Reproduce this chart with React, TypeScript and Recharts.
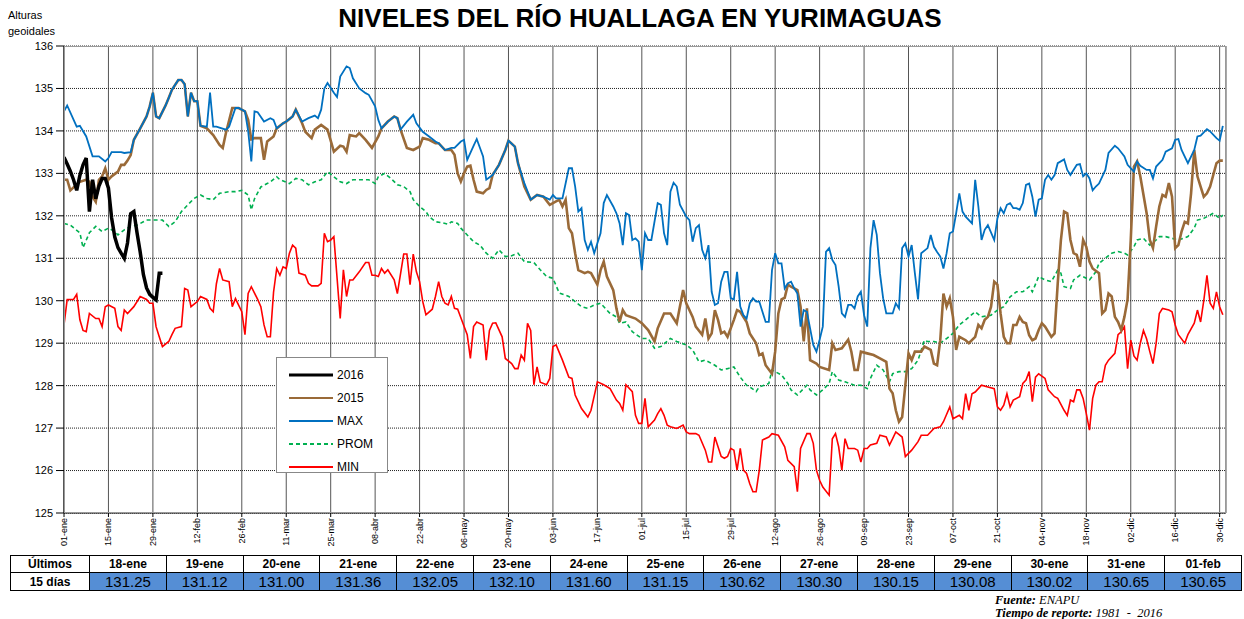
import React from "react";
import { LineChart, Line, XAxis, YAxis, CartesianGrid, Legend } from "recharts";

const TICK_DAYS = [0, 14, 28, 42, 56, 70, 84, 98, 112, 126, 140, 154, 168, 182, 196, 210, 224, 238, 252, 266, 280, 294, 308, 322, 336, 350, 364];
const TICK_LABELS = ["01-ene", "15-ene", "29-ene", "12-feb", "26-feb", "11-mar", "25-mar", "08-abr", "22-abr", "06-may", "20-may", "03-jun", "17-jun", "01-jul", "15-jul", "29-jul", "12-ago", "26-ago", "09-sep", "23-sep", "07-oct", "21-oct", "04-nov", "18-nov", "02-dic", "16-dic", "30-dic"];
const Y_TICKS = [125, 126, 127, 128, 129, 130, 131, 132, 133, 134, 135, 136];

// [día del año, altura]
const Y2016 = [[0, 133.38], [1, 133.22], [2, 133.05], [3, 132.85], [4, 132.6], [5, 132.95], [6, 133.2], [7, 133.36], [8, 132.1], [9, 132.85], [10, 132.4], [11, 132.7], [12, 132.88], [13, 132.88], [14, 132.65], [15, 131.95], [16, 131.5], [17, 131.25], [18, 131.12], [19, 131.0], [20, 131.36], [21, 132.05], [22, 132.1], [23, 131.6], [24, 131.15], [25, 130.62], [26, 130.3], [27, 130.15], [28, 130.08], [29, 130.02], [30, 130.65], [31, 130.65]];

const Y2015 = [[0, 132.85], [1, 132.85], [2, 132.6], [3, 132.67], [5, 132.8], [7, 132.85], [8, 132.8], [9, 132.45], [10, 132.33], [11, 132.85], [12, 132.93], [13, 133.12], [14, 132.85], [15, 132.93], [17, 133.04], [18, 133.2], [19, 133.2], [20, 133.3], [21, 133.43], [22, 133.79], [24, 134.06], [26, 134.34], [27, 134.58], [28, 134.9], [29, 134.34], [30, 134.3], [32, 134.6], [33, 134.78], [34, 134.97], [36, 135.2], [37, 135.2], [38, 135.1], [39, 134.34], [40, 134.9], [41, 134.7], [42, 134.7], [43, 134.12], [45, 134.06], [47, 133.9], [49, 133.67], [50, 133.6], [51, 133.95], [53, 134.54], [55, 134.54], [57, 134.46], [58, 134.26], [59, 133.8], [60, 133.83], [62, 133.83], [63, 133.32], [64, 133.75], [66, 133.87], [67, 134.06], [69, 134.18], [70, 134.22], [72, 134.34], [73, 134.5], [75, 134.18], [76, 133.98], [78, 133.83], [79, 134.03], [81, 134.14], [83, 134.03], [85, 133.51], [87, 133.65], [88, 133.63], [89, 133.51], [90, 133.9], [92, 133.87], [93, 133.95], [95, 133.79], [97, 133.6], [99, 133.87], [100, 134.06], [102, 134.22], [104, 134.34], [105, 134.3], [106, 134.03], [108, 133.6], [110, 133.55], [112, 133.63], [113, 133.83], [115, 133.79], [117, 133.71], [118, 133.71], [120, 133.55], [122, 133.55], [123, 133.44], [124, 133.0], [125, 132.81], [126, 133.0], [127, 133.16], [128, 133.18], [129, 132.85], [130, 132.57], [132, 132.53], [133, 132.61], [134, 132.65], [135, 132.96], [137, 133.2], [139, 133.55], [140, 133.77], [142, 133.63], [143, 133.24], [145, 132.69], [147, 132.38], [149, 132.49], [151, 132.45], [153, 132.26], [155, 132.34], [156, 132.38], [157, 132.22], [158, 132.38], [159, 131.71], [160, 131.59], [161, 131.12], [162, 130.72], [164, 130.65], [165, 130.68], [166, 130.65], [168, 130.38], [169, 130.72], [170, 130.92], [171, 130.57], [173, 130.25], [174, 129.82], [175, 129.5], [176, 129.78], [177, 129.66], [180, 129.58], [182, 129.47], [184, 129.31], [186, 129.04], [187, 129.35], [189, 129.7], [191, 129.7], [193, 129.47], [195, 130.25], [196, 129.94], [198, 129.62], [199, 129.39], [201, 129.2], [202, 129.58], [203, 129.11], [204, 129.23], [205, 129.78], [206, 129.55], [207, 129.23], [208, 129.27], [209, 129.15], [211, 129.55], [212, 129.78], [213, 129.74], [215, 129.5], [216, 129.23], [218, 129.0], [219, 128.72], [220, 128.76], [221, 128.48], [223, 128.28], [224, 128.8], [225, 129.7], [226, 130.03], [227, 130.07], [228, 130.38], [229, 130.33], [231, 130.25], [232, 129.86], [233, 129.04], [234, 129.82], [235, 128.6], [237, 128.52], [238, 128.44], [241, 128.37], [242, 129.0], [243, 128.84], [245, 128.88], [247, 129.08], [248, 128.8], [249, 128.37], [250, 128.37], [251, 128.8], [253, 128.76], [255, 128.72], [257, 128.64], [259, 128.56], [260, 127.93], [261, 127.82], [262, 127.42], [263, 127.15], [264, 127.26], [265, 128.01], [266, 128.76], [267, 128.6], [268, 128.8], [270, 128.8], [271, 128.92], [273, 128.84], [274, 128.52], [275, 128.48], [276, 129.07], [277, 130.17], [278, 129.86], [279, 130.06], [280, 129.62], [281, 128.84], [282, 129.15], [284, 129.07], [285, 129.0], [287, 129.15], [288, 129.43], [289, 129.35], [290, 129.55], [291, 129.62], [292, 129.86], [293, 130.45], [294, 130.38], [295, 129.7], [296, 129.15], [297, 129.0], [298, 129.0], [299, 129.43], [300, 129.43], [301, 129.62], [302, 129.5], [303, 129.47], [304, 129.19], [305, 129.07], [306, 129.11], [307, 129.31], [308, 129.47], [309, 129.39], [311, 129.15], [312, 129.23], [313, 130.41], [314, 131.43], [315, 132.1], [316, 132.06], [317, 131.43], [318, 131.12], [319, 131.08], [320, 130.8], [321, 131.43], [322, 131.27], [323, 130.92], [324, 130.76], [326, 130.65], [327, 129.7], [328, 129.78], [329, 130.17], [330, 130.1], [331, 129.62], [332, 129.5], [333, 129.31], [334, 129.62], [335, 130.03], [336, 131.43], [337, 133.16], [338, 133.28], [339, 132.93], [341, 132.06], [342, 131.43], [343, 131.24], [344, 131.75], [345, 132.22], [346, 132.49], [347, 132.45], [348, 132.77], [349, 132.45], [350, 131.24], [351, 131.31], [352, 131.63], [353, 131.86], [354, 131.82], [355, 132.53], [356, 133.55], [357, 132.93], [358, 132.69], [359, 132.45], [360, 132.53], [361, 132.69], [363, 133.24], [364, 133.3], [365, 133.3]];

const MAXIMO = [[0, 134.46], [1, 134.6], [4, 134.1], [5, 134.12], [7, 133.87], [9, 133.4], [11, 133.4], [13, 133.28], [14, 133.36], [15, 133.5], [18, 133.5], [19, 133.48], [21, 133.5], [22, 133.79], [24, 134.06], [26, 134.34], [27, 134.58], [28, 134.9], [29, 134.34], [30, 134.3], [32, 134.6], [33, 134.78], [34, 134.97], [36, 135.2], [37, 135.2], [38, 135.1], [39, 134.34], [40, 134.9], [41, 134.7], [42, 134.7], [43, 134.12], [45, 134.1], [46, 134.9], [47, 134.1], [48, 134.1], [51, 134.03], [52, 134.1], [54, 134.54], [55, 134.54], [57, 134.46], [58, 134.0], [59, 133.28], [60, 134.46], [61, 134.44], [63, 134.22], [65, 134.3], [66, 134.26], [67, 134.06], [69, 134.18], [70, 134.22], [72, 134.34], [73, 134.5], [75, 134.22], [77, 134.3], [79, 134.36], [80, 134.3], [81, 134.5], [82, 135.0], [83, 135.13], [85, 134.9], [86, 134.8], [87, 135.28], [89, 135.52], [90, 135.48], [91, 135.24], [93, 135.0], [95, 134.89], [96, 134.85], [98, 134.58], [99, 134.26], [100, 134.06], [102, 134.22], [104, 134.34], [105, 134.3], [106, 134.03], [108, 134.22], [110, 134.38], [111, 134.18], [113, 133.98], [115, 133.87], [117, 133.75], [118, 133.71], [120, 133.55], [122, 133.6], [123, 133.6], [125, 133.75], [126, 133.79], [127, 133.32], [129, 133.65], [130, 133.81], [132, 133.4], [133, 132.85], [135, 132.96], [137, 133.2], [139, 133.55], [140, 133.77], [142, 133.63], [143, 133.24], [145, 132.77], [147, 132.38], [149, 132.49], [151, 132.45], [153, 132.38], [154, 132.49], [155, 132.41], [157, 132.41], [159, 133.12], [160, 133.12], [161, 132.69], [162, 132.1], [163, 132.18], [164, 131.43], [165, 131.2], [166, 131.39], [167, 131.12], [169, 131.59], [170, 132.3], [171, 132.49], [173, 132.22], [174, 132.06], [175, 131.82], [176, 131.31], [177, 132.06], [178, 132.02], [179, 131.43], [180, 131.47], [181, 131.39], [182, 130.72], [183, 131.59], [184, 131.43], [185, 131.43], [187, 132.3], [188, 132.26], [189, 131.59], [190, 131.31], [191, 132.57], [192, 132.78], [193, 132.69], [194, 132.26], [196, 131.98], [197, 131.9], [198, 131.39], [199, 131.71], [200, 131.78], [201, 131.2], [202, 131.0], [203, 131.31], [204, 130.21], [205, 129.9], [206, 129.94], [207, 130.45], [208, 130.68], [209, 130.68], [210, 130.06], [211, 130.03], [212, 130.68], [213, 129.86], [214, 129.66], [215, 129.58], [216, 129.94], [217, 130.06], [218, 129.98], [219, 129.98], [221, 129.5], [222, 129.5], [223, 130.72], [224, 131.12], [225, 130.88], [226, 130.88], [227, 130.29], [228, 130.41], [229, 130.45], [230, 130.29], [231, 130.17], [232, 129.39], [233, 129.78], [234, 129.74], [235, 129.35], [236, 128.96], [237, 128.8], [238, 129.08], [239, 129.39], [240, 131.15], [241, 131.24], [242, 130.96], [243, 130.84], [244, 130.33], [245, 129.7], [246, 129.62], [247, 129.9], [248, 129.9], [249, 129.82], [250, 130.1], [251, 130.21], [252, 129.66], [253, 129.39], [254, 131.24], [255, 131.9], [256, 131.55], [257, 130.65], [258, 130.06], [259, 129.7], [261, 129.7], [262, 129.94], [263, 129.82], [264, 131.24], [265, 131.35], [266, 131.04], [267, 131.31], [268, 130.65], [269, 130.03], [270, 131.12], [272, 131.24], [273, 131.55], [274, 131.27], [275, 131.15], [276, 131.04], [277, 130.76], [278, 131.12], [279, 131.59], [280, 131.63], [281, 132.06], [282, 132.53], [283, 132.1], [284, 131.98], [286, 131.82], [287, 132.85], [288, 132.22], [289, 131.43], [290, 131.67], [291, 131.78], [293, 131.43], [294, 131.94], [295, 132.18], [296, 132.06], [297, 132.26], [298, 132.3], [299, 132.18], [300, 132.18], [301, 132.14], [302, 132.3], [303, 132.73], [304, 132.76], [305, 132.45], [306, 131.98], [307, 132.38], [308, 132.41], [309, 132.85], [310, 132.96], [311, 132.85], [312, 132.96], [313, 133.24], [315, 133.33], [316, 133.08], [317, 132.96], [319, 133.2], [320, 133.22], [321, 132.93], [322, 133.0], [323, 132.88], [324, 132.6], [325, 132.69], [326, 132.76], [328, 133.08], [329, 133.48], [331, 133.65], [332, 133.59], [334, 133.4], [335, 133.2], [337, 133.04], [338, 133.28], [339, 133.18], [341, 133.08], [342, 133.08], [343, 132.88], [344, 133.16], [346, 133.32], [347, 133.51], [349, 133.59], [350, 133.79], [351, 133.81], [352, 133.55], [354, 133.24], [356, 133.55], [357, 133.87], [358, 133.89], [360, 134.04], [361, 133.99], [363, 133.83], [364, 133.77], [365, 134.12]];

const PROMEDIO = [[0, 131.82], [2, 131.78], [5, 131.6], [6, 131.25], [8, 131.6], [10, 131.75], [12, 131.63], [14, 131.71], [16, 131.63], [17, 131.55], [19, 131.67], [21, 131.75], [23, 131.78], [25, 131.86], [26, 131.9], [31, 131.9], [33, 131.75], [35, 131.86], [37, 132.1], [39, 132.26], [41, 132.41], [43, 132.49], [45, 132.41], [47, 132.38], [49, 132.53], [52, 132.57], [54, 132.57], [56, 132.6], [58, 132.49], [59, 132.14], [60, 132.4], [62, 132.68], [64, 132.76], [65, 132.8], [67, 132.92], [68, 132.85], [71, 132.76], [73, 132.88], [75, 132.85], [77, 132.73], [79, 132.8], [81, 132.85], [83, 133.04], [85, 132.92], [87, 132.8], [89, 132.76], [91, 132.85], [94, 132.85], [96, 132.85], [98, 132.76], [99, 132.92], [101, 133.0], [103, 132.88], [105, 132.73], [107, 132.69], [109, 132.57], [110, 132.38], [112, 132.22], [114, 132.1], [115, 131.98], [117, 131.86], [119, 131.84], [121, 131.8], [122, 131.86], [124, 131.82], [125, 131.71], [127, 131.55], [129, 131.39], [131, 131.31], [133, 131.12], [135, 131.0], [137, 131.2], [139, 131.04], [141, 131.06], [143, 131.12], [145, 130.92], [148, 130.9], [150, 130.73], [152, 130.57], [154, 130.53], [156, 130.18], [159, 130.1], [161, 129.98], [163, 129.86], [165, 129.82], [167, 129.9], [169, 129.94], [172, 129.7], [174, 129.62], [175, 129.47], [177, 129.5], [179, 129.27], [182, 129.11], [184, 129.11], [186, 128.88], [188, 128.92], [191, 129.11], [193, 129.04], [196, 128.96], [198, 128.84], [200, 128.56], [202, 128.6], [205, 128.48], [207, 128.37], [209, 128.4], [211, 128.44], [213, 128.2], [215, 128.01], [216, 127.97], [218, 127.86], [219, 127.97], [222, 128.05], [223, 128.37], [226, 128.25], [228, 128.05], [229, 127.9], [231, 127.78], [234, 128.01], [235, 127.9], [237, 127.78], [239, 127.9], [241, 128.05], [242, 128.33], [244, 128.13], [246, 128.09], [249, 128.01], [251, 128.01], [253, 127.93], [254, 128.17], [256, 128.48], [258, 128.37], [260, 128.09], [261, 128.28], [263, 128.33], [265, 128.33], [267, 128.4], [269, 128.6], [271, 129.07], [272, 129.04], [274, 129.04], [276, 129.0], [278, 129.11], [280, 129.23], [282, 129.43], [284, 129.55], [287, 129.74], [289, 129.62], [292, 129.66], [294, 129.78], [296, 129.86], [298, 130.09], [300, 130.21], [302, 130.21], [304, 130.33], [305, 130.21], [307, 130.57], [309, 130.49], [311, 130.45], [313, 130.72], [314, 130.65], [315, 130.33], [317, 130.29], [318, 130.49], [320, 130.6], [322, 130.53], [323, 130.49], [325, 130.68], [326, 130.88], [328, 131.0], [330, 131.12], [332, 131.16], [334, 131.12], [335, 131.08], [337, 131.27], [338, 131.43], [340, 131.47], [341, 131.39], [342, 131.31], [344, 131.43], [345, 131.51], [347, 131.51], [349, 131.47], [351, 131.43], [354, 131.51], [356, 131.71], [357, 131.9], [359, 131.94], [361, 132.02], [362, 132.06], [364, 131.94], [365, 132.02]];

const MINIMO = [[0, 129.43], [1, 130.03], [3, 130.03], [4, 130.15], [5, 129.55], [6, 129.3], [7, 129.27], [8, 129.7], [10, 129.58], [11, 129.58], [12, 129.39], [13, 129.86], [14, 129.9], [16, 129.82], [17, 129.39], [18, 129.3], [19, 129.78], [20, 129.7], [22, 129.86], [24, 130.1], [26, 130.03], [27, 129.94], [28, 129.94], [29, 129.39], [30, 129.15], [31, 128.92], [33, 129.04], [34, 129.2], [35, 129.35], [37, 129.39], [38, 130.29], [39, 130.25], [40, 129.86], [42, 129.98], [43, 130.1], [45, 130.03], [46, 129.82], [47, 129.74], [48, 130.4], [49, 130.76], [50, 130.49], [52, 130.45], [53, 129.86], [54, 130.05], [56, 129.74], [57, 129.2], [58, 130.17], [59, 130.33], [61, 130.03], [62, 129.86], [63, 129.43], [64, 129.15], [65, 129.15], [66, 130.2], [67, 130.76], [68, 130.6], [69, 130.8], [70, 130.76], [71, 131.12], [72, 131.31], [73, 131.24], [74, 130.65], [76, 130.6], [77, 130.41], [78, 130.35], [80, 130.35], [81, 130.41], [82, 131.59], [83, 131.39], [84, 131.43], [85, 131.51], [87, 129.58], [88, 130.73], [89, 130.1], [90, 130.49], [91, 130.49], [93, 130.68], [95, 130.9], [96, 130.9], [97, 130.6], [98, 130.6], [99, 130.57], [100, 130.76], [101, 130.65], [102, 130.73], [104, 130.49], [105, 130.17], [107, 131.1], [108, 131.1], [109, 130.38], [110, 131.1], [111, 130.68], [112, 130.45], [113, 129.98], [114, 129.67], [116, 129.8], [117, 130.1], [118, 130.45], [119, 130.1], [120, 129.94], [121, 129.9], [122, 130.1], [123, 129.82], [124, 129.8], [126, 129.4], [127, 129.2], [128, 128.64], [129, 129.39], [130, 129.5], [132, 129.43], [133, 128.6], [134, 129.3], [135, 129.47], [136, 129.48], [138, 129.15], [139, 128.64], [141, 128.52], [142, 128.4], [143, 128.4], [144, 128.72], [145, 128.6], [146, 129.47], [147, 129.3], [148, 128.02], [149, 128.44], [150, 128.08], [152, 128.02], [153, 128.17], [154, 128.92], [155, 128.96], [157, 128.6], [159, 128.2], [160, 128.17], [161, 127.78], [163, 127.46], [165, 127.26], [166, 127.42], [168, 128.09], [170, 128.02], [172, 127.93], [174, 127.66], [175, 127.58], [176, 127.42], [177, 128.02], [179, 127.86], [180, 127.3], [181, 127.11], [182, 127.11], [183, 127.7], [184, 127.03], [186, 127.19], [187, 127.34], [188, 127.46], [189, 127.3], [190, 127.07], [191, 127.03], [193, 126.99], [195, 127.07], [196, 126.91], [197, 126.87], [199, 126.87], [200, 126.83], [202, 126.48], [203, 126.2], [204, 126.2], [205, 126.79], [206, 126.56], [207, 126.33], [208, 126.29], [209, 126.33], [210, 126.52], [211, 126.48], [212, 126.01], [213, 126.52], [214, 126.01], [215, 125.93], [216, 125.69], [217, 125.5], [218, 125.5], [219, 126.01], [220, 126.72], [222, 126.79], [223, 126.87], [225, 126.83], [227, 126.56], [228, 126.24], [230, 126.09], [231, 125.5], [232, 126.52], [234, 126.87], [235, 126.87], [236, 126.64], [237, 126.01], [238, 125.77], [239, 125.61], [241, 125.42], [242, 126.75], [243, 126.87], [244, 126.56], [245, 126.01], [246, 126.75], [247, 126.52], [249, 126.52], [250, 126.48], [251, 126.2], [252, 126.52], [253, 126.52], [254, 126.6], [256, 126.64], [257, 126.83], [259, 126.79], [260, 126.6], [261, 126.75], [262, 126.91], [264, 126.79], [265, 126.33], [267, 126.48], [269, 126.68], [270, 126.83], [272, 126.83], [274, 126.99], [276, 127.03], [277, 127.15], [279, 127.5], [280, 127.22], [282, 127.3], [283, 127.22], [284, 127.81], [285, 127.42], [286, 127.81], [287, 127.85], [289, 128.01], [291, 127.97], [293, 127.93], [294, 127.5], [295, 127.42], [296, 127.54], [297, 127.81], [298, 127.5], [299, 127.66], [301, 127.74], [302, 128.05], [303, 128.13], [304, 128.33], [305, 127.62], [306, 128.2], [307, 128.28], [309, 128.17], [310, 127.9], [312, 127.74], [313, 127.7], [315, 127.42], [316, 127.3], [317, 127.66], [318, 127.62], [319, 127.9], [320, 127.9], [321, 127.7], [322, 127.34], [323, 126.95], [324, 127.7], [325, 128.01], [326, 128.09], [327, 128.09], [328, 128.48], [329, 128.6], [331, 128.76], [332, 129.2], [333, 129.27], [334, 129.39], [335, 128.4], [336, 129.07], [337, 128.7], [338, 128.6], [339, 129.0], [340, 129.3], [341, 129.1], [342, 128.8], [343, 128.52], [344, 129.0], [345, 129.7], [346, 129.82], [348, 129.78], [349, 129.74], [350, 129.43], [351, 129.2], [353, 129.0], [354, 129.2], [356, 129.47], [357, 129.78], [358, 129.5], [359, 130.0], [360, 130.6], [361, 129.94], [362, 129.82], [363, 130.21], [364, 129.86], [365, 129.67]];

// tabla de los últimos 15 días
const ULTIMOS_FECHAS = ["18-ene", "19-ene", "20-ene", "21-ene", "22-ene", "23-ene", "24-ene", "25-ene", "26-ene", "27-ene", "28-ene", "29-ene", "30-ene", "31-ene", "01-feb"];
const ULTIMOS_VALORES = ["131.25", "131.12", "131.00", "131.36", "132.05", "132.10", "131.60", "131.15", "130.62", "130.30", "130.15", "130.08", "130.02", "130.65", "130.65"];

const SERIES = [
    { name: "2016", color: "#000000", width: 3.5, dash: undefined, data: Y2016 },
    { name: "2015", color: "#9A6A38", width: 2.6, dash: undefined, data: Y2015 },
    { name: "MAX", color: "#0070C0", width: 1.8, dash: undefined, data: MAXIMO },
    { name: "PROM", color: "#00B050", width: 1.6, dash: "4 3", data: PROMEDIO },
    { name: "MIN", color: "#FF0000", width: 1.6, dash: undefined, data: MINIMO },
];

const DRAW_ORDER = ["MIN", "PROM", "2015", "MAX", "2016"];

const FONT = "'Liberation Sans', Arial, sans-serif";
const SERIF = "'Liberation Serif', 'Times New Roman', serif";

const toPoints = (arr: number[][]) => arr.map(([d, v]) => ({ d, v }));

function XTick(props: any) {
    const { x, y, payload } = props;
    const label = TICK_LABELS[TICK_DAYS.indexOf(payload.value)];
    return (
        <text transform={`translate(${x + 3},${y}) rotate(-90)`} textAnchor="end" fontSize={9} fontFamily={FONT} fill="#000">
            {label}
        </text>
    );
}

function LegendBox() {
    return (
        <div style={{ width: 112, height: 116, border: "1px solid #888", background: "#fff", boxSizing: "border-box", paddingTop: 5 }}>
            {SERIES.map((s) => (
                <div key={s.name} style={{ display: "flex", alignItems: "center", height: 23 }}>
                    <svg width={62} height={8} style={{ marginLeft: 12 }}>
                        <line x1={0} y1={4} x2={44} y2={4} stroke={s.color} strokeWidth={s.name === "2016" ? 3 : 2} strokeDasharray={s.dash} />
                    </svg>
                    <span style={{ fontFamily: FONT, fontSize: 12, marginLeft: -14 }}>{s.name}</span>
                </div>
            ))}
        </div>
    );
}

export default function App() {
    const cell: React.CSSProperties = { border: "1px solid #000", textAlign: "center", padding: 0, fontFamily: FONT };
    return (
        <div style={{ position: "absolute", left: 0, top: 0, width: 1244, height: 619, background: "#fff", overflow: "hidden" }}>
            <div style={{ position: "absolute", left: 0, top: 3, width: 1280, textAlign: "center", fontFamily: FONT, fontWeight: "bold", fontSize: 26 }}>
                NIVELES DEL RÍO HUALLAGA EN YURIMAGUAS
            </div>
            <div style={{ position: "absolute", left: 8, top: 7, fontFamily: FONT, fontSize: 11, lineHeight: "16px" }}>
                Alturas
                <br />
                geoidales
            </div>

            <div style={{ position: "absolute", left: 0, top: 0 }}>
                <LineChart width={1244} height={560} margin={{ top: 46, right: 18, left: 0, bottom: 0 }}>
                    <CartesianGrid horizontal={false} stroke="#555" strokeWidth={1} />
                    <CartesianGrid vertical={false} stroke="#222" strokeDasharray="1 1" />
                    <XAxis
                        type="number"
                        dataKey="d"
                        domain={[0, 366]}
                        ticks={TICK_DAYS}
                        interval={0}
                        height={47}
                        tickSize={4}
                        tickMargin={1}
                        tick={<XTick />}
                        stroke="#000"
                        allowDataOverflow
                    />
                    <YAxis
                        type="number"
                        domain={[125, 136]}
                        ticks={Y_TICKS}
                        interval={0}
                        width={64}
                        tickSize={8}
                        tickMargin={3}
                        stroke="#000"
                        tick={{ fontSize: 11, fontFamily: FONT, fill: "#000" }}
                        allowDataOverflow
                    />
                    {DRAW_ORDER.map((n) => {
                        const s = SERIES.find((x) => x.name === n)!;
                        return (
                            <Line
                                key={s.name}
                                name={s.name}
                                data={toPoints(s.data)}
                                dataKey="v"
                                type="linear"
                                stroke={s.color}
                                strokeWidth={s.width}
                                strokeDasharray={s.dash}
                                dot={false}
                                activeDot={false}
                                isAnimationActive={false}
                            />
                        );
                    })}
                    <Legend
                        layout="vertical"
                        align="center"
                        verticalAlign="middle"
                        content={() => <LegendBox />}
                        wrapperStyle={{ position: "absolute", left: 276, top: 357, width: 112, height: 116 }}
                    />
                </LineChart>
            </div>

            {/* marco del área de trazado */}
            <div style={{ position: "absolute", left: 64, top: 46, width: 1162, height: 467, border: "1px solid #999", boxSizing: "border-box", pointerEvents: "none" }} />

            <table style={{ position: "absolute", left: 10, top: 555, borderCollapse: "collapse", tableLayout: "fixed", width: 1232 }}>
                <tbody>
                    <tr style={{ height: 17 }}>
                        <td style={{ ...cell, width: 78, fontWeight: "bold", fontSize: 12 }}>Últimos</td>
                        {ULTIMOS_FECHAS.map((f) => (
                            <td key={f} style={{ ...cell, fontWeight: "bold", fontSize: 12 }}>{f}</td>
                        ))}
                    </tr>
                    <tr style={{ height: 18 }}>
                        <td style={{ ...cell, fontWeight: "bold", fontSize: 12 }}>15 días</td>
                        {ULTIMOS_VALORES.map((v, i) => (
                            <td key={i} style={{ ...cell, background: "#558ED5", fontSize: 15, lineHeight: "17px" }}>{v}</td>
                        ))}
                    </tr>
                </tbody>
            </table>

            <div style={{ position: "absolute", left: 995, top: 593, fontFamily: SERIF, fontStyle: "italic", fontSize: 12.5, lineHeight: "14px", whiteSpace: "pre" }}>
                <b>Fuente:</b> ENAPU
            </div>
            <div style={{ position: "absolute", left: 995, top: 606, fontFamily: SERIF, fontStyle: "italic", fontSize: 12.5, lineHeight: "14px", whiteSpace: "pre" }}>
                <b>Tiempo de reporte:</b> 1981  -  2016
            </div>
        </div>
    );
}
